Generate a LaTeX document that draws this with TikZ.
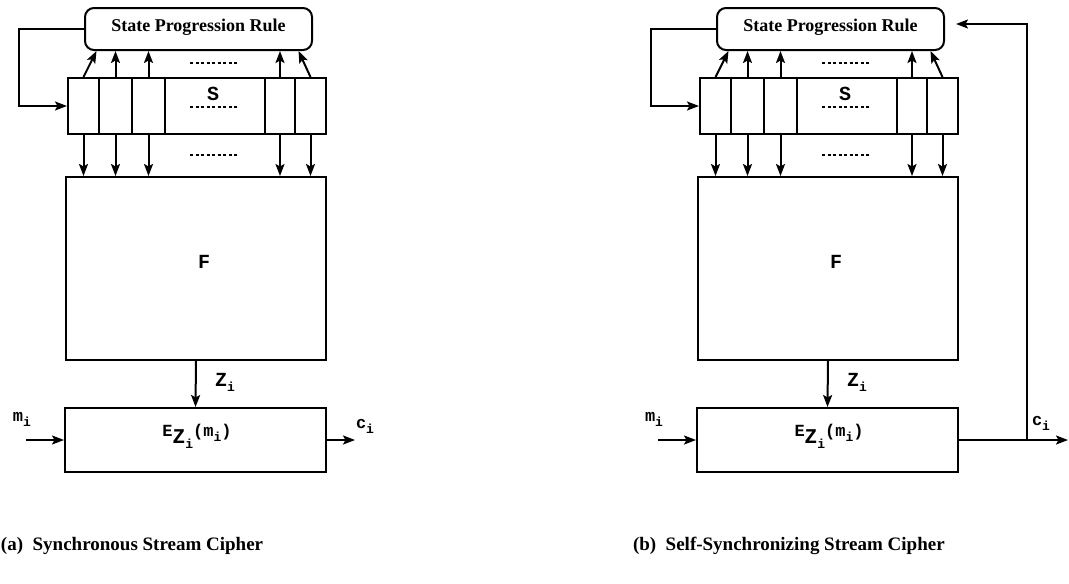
\documentclass[tikz,border=0pt]{standalone}
\usepackage{fontspec}
\setmainfont{Liberation Serif}
\setmonofont{Liberation Mono}
\usetikzlibrary{arrows.meta}
\newcommand\subi{\raisebox{-5pt}{\fontsize{13}{13}\selectfont i}}
\newcommand\cipherpanel[2]{%
\begin{scope}[xshift=#2]
  \node[box, rounded corners=9pt, minimum width=227pt, minimum height=42pt] (#1spr) at (198.5,29) {};
  \node[sprtext] (#1sprt) at (198.5,27) {State Progression Rule};
  \node[box, minimum width=31pt, minimum height=56pt] (#1c1) at (83.5,106) {};
  \node[box, minimum width=33pt, minimum height=56pt] (#1c2) at (115.5,106) {};
  \node[box, minimum width=33pt, minimum height=56pt] (#1c3) at (148.5,106) {};
  \node[box, minimum width=100pt, minimum height=56pt] (#1c4) at (215,106) {};
  \node[box, minimum width=30pt, minimum height=56pt] (#1c5) at (280,106) {};
  \node[box, minimum width=31pt, minimum height=56pt] (#1c6) at (310.5,106) {};
  \node[lbl] (#1S) at (213,94) {S};
  \coordinate (#1d1a) at (190,63); \coordinate (#1d1b) at (238,63);
  \coordinate (#1d2a) at (190,107); \coordinate (#1d2b) at (238,107);
  \coordinate (#1d3a) at (190,155); \coordinate (#1d3b) at (238,155);
  \draw[dots] (#1d1a) -- (#1d1b);
  \draw[dots] (#1d2a) -- (#1d2b);
  \draw[dots] (#1d3a) -- (#1d3b);
  \node[box, minimum width=260pt, minimum height=183pt] (#1F) at (196,268.5) {};
  \node[lbl] (#1Ft) at (204,262) {F};
  \node[box, minimum width=261pt, minimum height=64pt] (#1E) at (195.5,440) {};
  \node[lbl, font=\fontsize{17}{17}\selectfont\ttfamily\bfseries] (#1Et) at (197,436) {E\raisebox{-7pt}{\fontsize{21}{21}\selectfont Z\subi}(m\subi)};
  % up arrows
  \draw[arr] (#1c1.north) -- ([xshift=13pt]#1c1.north |- #1spr.south);
  \draw[arr] (#1c2.north) -- (#1c2.north |- #1spr.south);
  \draw[arr] (#1c3.north) -- (#1c3.north |- #1spr.south);
  \draw[arr] (#1c5.north) -- (#1c5.north |- #1spr.south);
  \draw[arr] (#1c6.north) -- ([xshift=-12pt]#1c6.north |- #1spr.south);
  % down arrows
  \draw[arr] (#1c1.south) -- (#1c1.south |- #1F.north);
  \draw[arr] (#1c2.south) -- (#1c2.south |- #1F.north);
  \draw[arr] (#1c3.south) -- (#1c3.south |- #1F.north);
  \draw[arr] (#1c5.south) -- (#1c5.south |- #1F.north);
  \draw[arr] (#1c6.south) -- (#1c6.south |- #1F.north);
  % loop
  \draw[arr] (#1spr.west) -- ++(-65,0) |- (#1c1.west);
  % Zi
  \draw[arr] (#1F.south) -- (#1E.north);
  \node[lbl, font=\fontsize{20}{20}\selectfont\ttfamily\bfseries] (#1Z) at (225,382) {Z\subi};
  % mi
  \coordinate (#1min) at (26,440);
  \draw[arr] (#1min) -- (#1E.west);
  \node[lbl, font=\fontsize{17}{17}\selectfont\ttfamily\bfseries] (#1m) at (22,419) {m\subi};
\end{scope}}
\begin{document}
\begin{tikzpicture}[x=1pt,y=-1pt, line width=2pt,
  box/.style={draw, rectangle, inner sep=0pt, line width=2pt},
  arr/.style={line width=2pt, -{Stealth[length=12pt,width=9pt,inset=2.5pt]}},
  dots/.style={dash pattern=on 3pt off 2.5pt, line width=1.5pt},
  sprtext/.style={font=\fontsize{18}{18}\selectfont\bfseries, inner sep=0pt},
  lbl/.style={font=\fontsize{20}{20}\selectfont\ttfamily\bfseries, inner sep=0pt},
  captext/.style={font=\fontsize{19}{19}\selectfont\bfseries, inner sep=0pt, anchor=west}]
\useasboundingbox (0,0) rectangle (1069,584);
\cipherpanel{a}{0}
\cipherpanel{b}{632}
% left output
\coordinate (aout) at (355,440);
\draw[arr] (aE.east) -- (aout);
\node[lbl, font=\fontsize{17}{17}\selectfont\ttfamily\bfseries] (aci) at (365,426) {c\subi};
% right output and feedback
\coordinate (bj) at (1027,440);
\coordinate (btop) at (1027,24);
\coordinate (bout) at (1068,440);
\draw[arr] (bE.east) -- (bout);
\draw[arr] (bj) -- (btop) -- ([xshift=11pt,yshift=5pt]bspr.east);
\node[lbl, font=\fontsize{17}{17}\selectfont\ttfamily\bfseries] (bci) at (1041,423) {c\subi};
% captions
\node[captext] (capa) at (0,546) {(a)\ \ Synchronous Stream Cipher};
\node[captext] (capb) at (632,546) {(b)\ \ Self-Synchronizing Stream Cipher};
\end{tikzpicture}
\end{document}
